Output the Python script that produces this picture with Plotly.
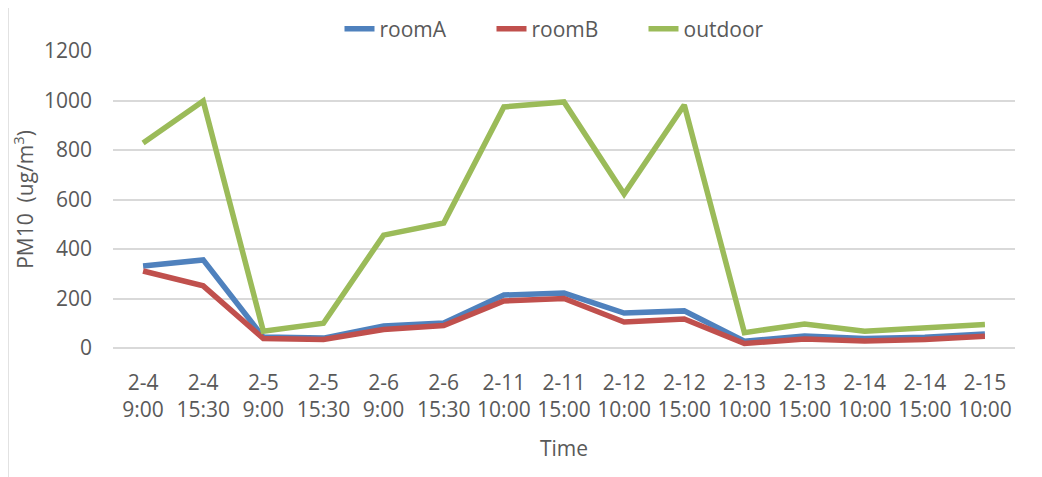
import plotly.graph_objects as go

categories = ["2-4<br>9:00", "2-4<br>15:30", "2-5<br>9:00", "2-5<br>15:30", "2-6<br>9:00",
              "2-6<br>15:30", "2-11<br>10:00", "2-11<br>15:00", "2-12<br>10:00", "2-12<br>15:00",
              "2-13<br>10:00", "2-13<br>15:00", "2-14<br>10:00", "2-14<br>15:00", "2-15<br>10:00"]
roomA = [331, 356, 44, 40, 89, 101, 214, 222, 141, 150, 27, 48, 38, 43, 57]
roomB = [311, 251, 38, 34, 75, 91, 190, 200, 105, 117, 18, 36, 28, 34, 47]
outdoor = [828, 998, 68, 100, 456, 505, 974, 994, 622, 982, 62, 97, 68, 81, 95]
y_ticks = [0, 200, 400, 600, 800, 1000, 1200]

FONT = "Open Sans"
TXT = "#595959"
FS = 21

fig = go.Figure()
for name, vals, col in [("roomA", roomA, "#4F81BD"), ("roomB", roomB, "#C0504D"),
                        ("outdoor", outdoor, "#9BBB59")]:
    fig.add_trace(go.Scatter(x=categories, y=vals, name=name, mode="lines",
                             line=dict(color=col, width=5.5)))

# page body has an 8px margin, so figure coords = page coords - 8
OFF = 8
W, H = 1042 - OFF, 477 - OFF
ml, mt = 113 - OFF, 51 - OFF
pr, pb = 1015 - OFF, 348 - OFF
mr, mb = W - pr, H - pb
pw, ph = pr - ml, pb - mt

fig.update_layout(
    width=W, height=H,
    margin=dict(l=ml, r=mr, t=mt, b=mb, autoexpand=False),
    paper_bgcolor="white", plot_bgcolor="white",
    font=dict(family=FONT, size=FS, color=TXT),
    legend=dict(orientation="h", x=0.5 + 3.5 / pw, xanchor="center",
                y=1 + (mt - (29 - OFF)) / ph, yanchor="middle",
                font=dict(size=FS, color=TXT),
                entrywidth=107, entrywidthmode="pixels",
                bgcolor="rgba(0,0,0,0)"),
    showlegend=True,
)
fig.update_xaxes(type="category", range=[-0.5, len(categories) - 0.5],
                 showgrid=False, showline=False, zeroline=False, ticks="",
                 tickfont=dict(size=FS, color=TXT), ticklabelstandoff=20,
                 title=dict(text="Time", font=dict(size=FS, color=TXT), standoff=19),
                 automargin=False)
fig.update_yaxes(range=[0, 1200], tickvals=y_ticks, showgrid=True,
                 gridcolor="#D9D9D9", gridwidth=1.5, zeroline=True,
                 zerolinecolor="#D9D9D9", zerolinewidth=1.5, showline=False, ticks="",
                 tickfont=dict(size=FS, color=TXT), ticklabelstandoff=20,
                 title=dict(text="PM10  (ug/m<sup>3</sup>)", font=dict(size=FS, color=TXT), standoff=9),
                 automargin=False)

# outer chart border
fig.add_shape(type="rect", xref="paper", yref="paper",
              x0=(8 - OFF - ml) / pw, x1=(W + 20 - ml) / pw,
              y0=-(mb + 20) / ph, y1=1 + (mt - (7 - OFF)) / ph,
              line=dict(color="#D9D9D9", width=1.5), fillcolor="rgba(0,0,0,0)", layer="below")

fig.write_html("out.html")
